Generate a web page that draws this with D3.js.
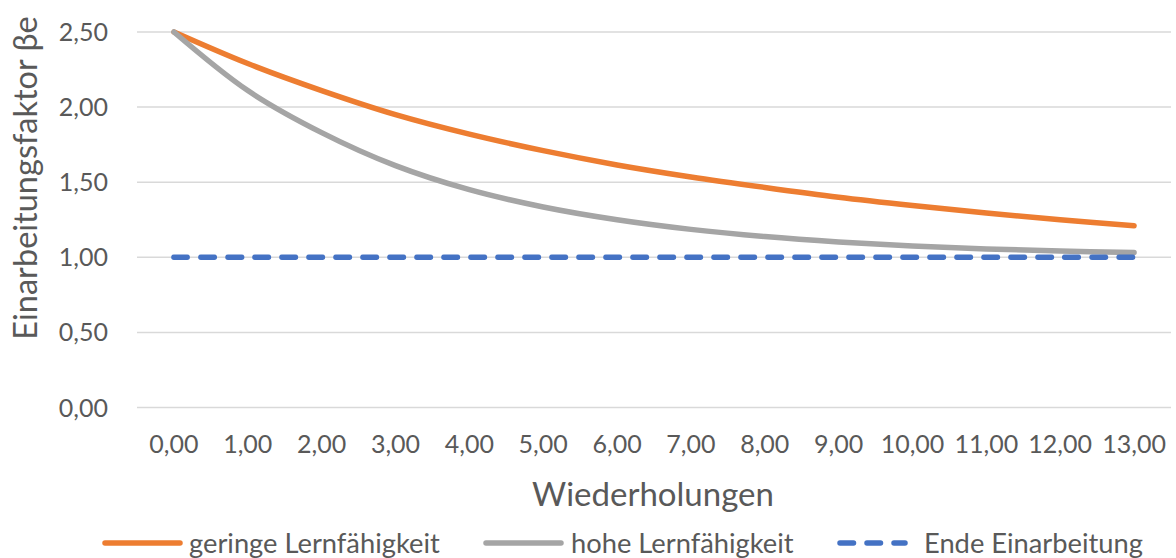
<!DOCTYPE html>
<html>
<head>
<meta charset="utf-8">
<script src="https://cdn.jsdelivr.net/npm/d3@7"></script>
<style>
  html, body { margin: 0; padding: 0; background: #fff; }
  svg text { font-family: Lato, "Open Sans", sans-serif; fill: #595959; }
</style>
</head>
<body>
<svg id="chart" width="1176" height="558"></svg>
<script>
// Wiederholungen (category labels on the x axis)
const xLabels = ["0,00", "1,00", "2,00", "3,00", "4,00", "5,00", "6,00",
                 "7,00", "8,00", "9,00", "10,00", "11,00", "12,00", "13,00"];
// Einarbeitungsfaktor per repetition
const geringeLernfaehigkeit = [2.50, 2.29, 2.11, 1.95, 1.82, 1.71, 1.615,
                               1.535, 1.465, 1.40, 1.345, 1.295, 1.25, 1.21];
const hoheLernfaehigkeit = [2.50, 2.11, 1.83, 1.61, 1.45, 1.335, 1.25,
                            1.186, 1.138, 1.102, 1.075, 1.056, 1.042, 1.032];
const endeEinarbeitung = [1.00, 1.00, 1.00, 1.00, 1.00, 1.00, 1.00,
                          1.00, 1.00, 1.00, 1.00, 1.00, 1.00, 1.00];
const yTicks = [0, 0.5, 1.0, 1.5, 2.0, 2.5];

const seriesNames = ["geringe Lernfähigkeit", "hohe Lernfähigkeit", "Ende Einarbeitung"];
const seriesValues = [geringeLernfaehigkeit, hoheLernfaehigkeit, endeEinarbeitung];
const seriesColors = ["#ED7D31", "#A5A5A5", "#4472C4"];
const seriesDash = [null, null, "13.5,13.5"];

const svg = d3.select("#chart");
const plot = { left: 137, right: 1171, top: 32, bottom: 407.5 };

const de = d3.formatLocale({ decimal: ",", thousands: ".", grouping: [3], currency: ["", " €"] });
const fmt = de.format(".2f");

const x = d3.scalePoint().domain(xLabels).range([plot.left, plot.right]).padding(0.5);
const y = d3.scaleLinear().domain([0, 2.5]).range([plot.bottom, plot.top]);

// horizontal gridlines
svg.append("g")
  .selectAll("line")
  .data(yTicks)
  .join("line")
  .attr("x1", plot.left).attr("x2", plot.right)
  .attr("y1", d => y(d)).attr("y2", d => y(d))
  .attr("stroke", "#D9D9D9").attr("stroke-width", 1.5);

// y tick labels
svg.append("g")
  .selectAll("text")
  .data(yTicks)
  .join("text")
  .attr("x", 108).attr("y", d => y(d) + 9)
  .attr("text-anchor", "end")
  .style("font-size", "25px")
  .text(d => fmt(d));

// x tick labels
svg.append("g")
  .selectAll("text")
  .data(xLabels)
  .join("text")
  .attr("x", d => x(d)).attr("y", 453)
  .attr("text-anchor", "middle")
  .style("font-size", "25px")
  .text(d => d);

// axis titles
svg.append("text")
  .attr("x", 653).attr("y", 506)
  .attr("text-anchor", "middle")
  .style("font-size", "33px")
  .text("Wiederholungen");

svg.append("text")
  .attr("transform", "translate(37,178) rotate(-90)")
  .attr("text-anchor", "middle")
  .style("font-size", "32.5px")
  .text("Einarbeitungsfaktor βe");

// series lines
const line = d3.line()
  .x((d, i) => x(xLabels[i]))
  .y(d => y(d))
  .curve(d3.curveCatmullRom.alpha(0.5));

svg.append("g")
  .selectAll("path")
  .data(seriesValues)
  .join("path")
  .attr("d", d => line(d))
  .attr("fill", "none")
  .attr("stroke", (d, i) => seriesColors[i])
  .attr("stroke-width", 5.5)
  .attr("stroke-linecap", "round")
  .attr("stroke-linejoin", "round")
  .attr("stroke-dasharray", (d, i) => seriesDash[i]);

// legend
const legendItems = [
  { x1: 105, x2: 180, tx: 189 },
  { x1: 486, x2: 561, tx: 571 },
  { x1: 840, x2: 905, tx: 924 }
];
const legend = svg.append("g");
legendItems.forEach((it, i) => {
  legend.append("line")
    .attr("x1", it.x1).attr("x2", it.x2)
    .attr("y1", 543).attr("y2", 543)
    .attr("stroke", seriesColors[i])
    .attr("stroke-width", 5.5)
    .attr("stroke-linecap", "round")
    .attr("stroke-dasharray", seriesDash[i]);
  legend.append("text")
    .attr("x", it.tx).attr("y", 553)
    .style("font-size", "27.3px")
    .text(seriesNames[i]);
});
</script>
</body>
</html>
